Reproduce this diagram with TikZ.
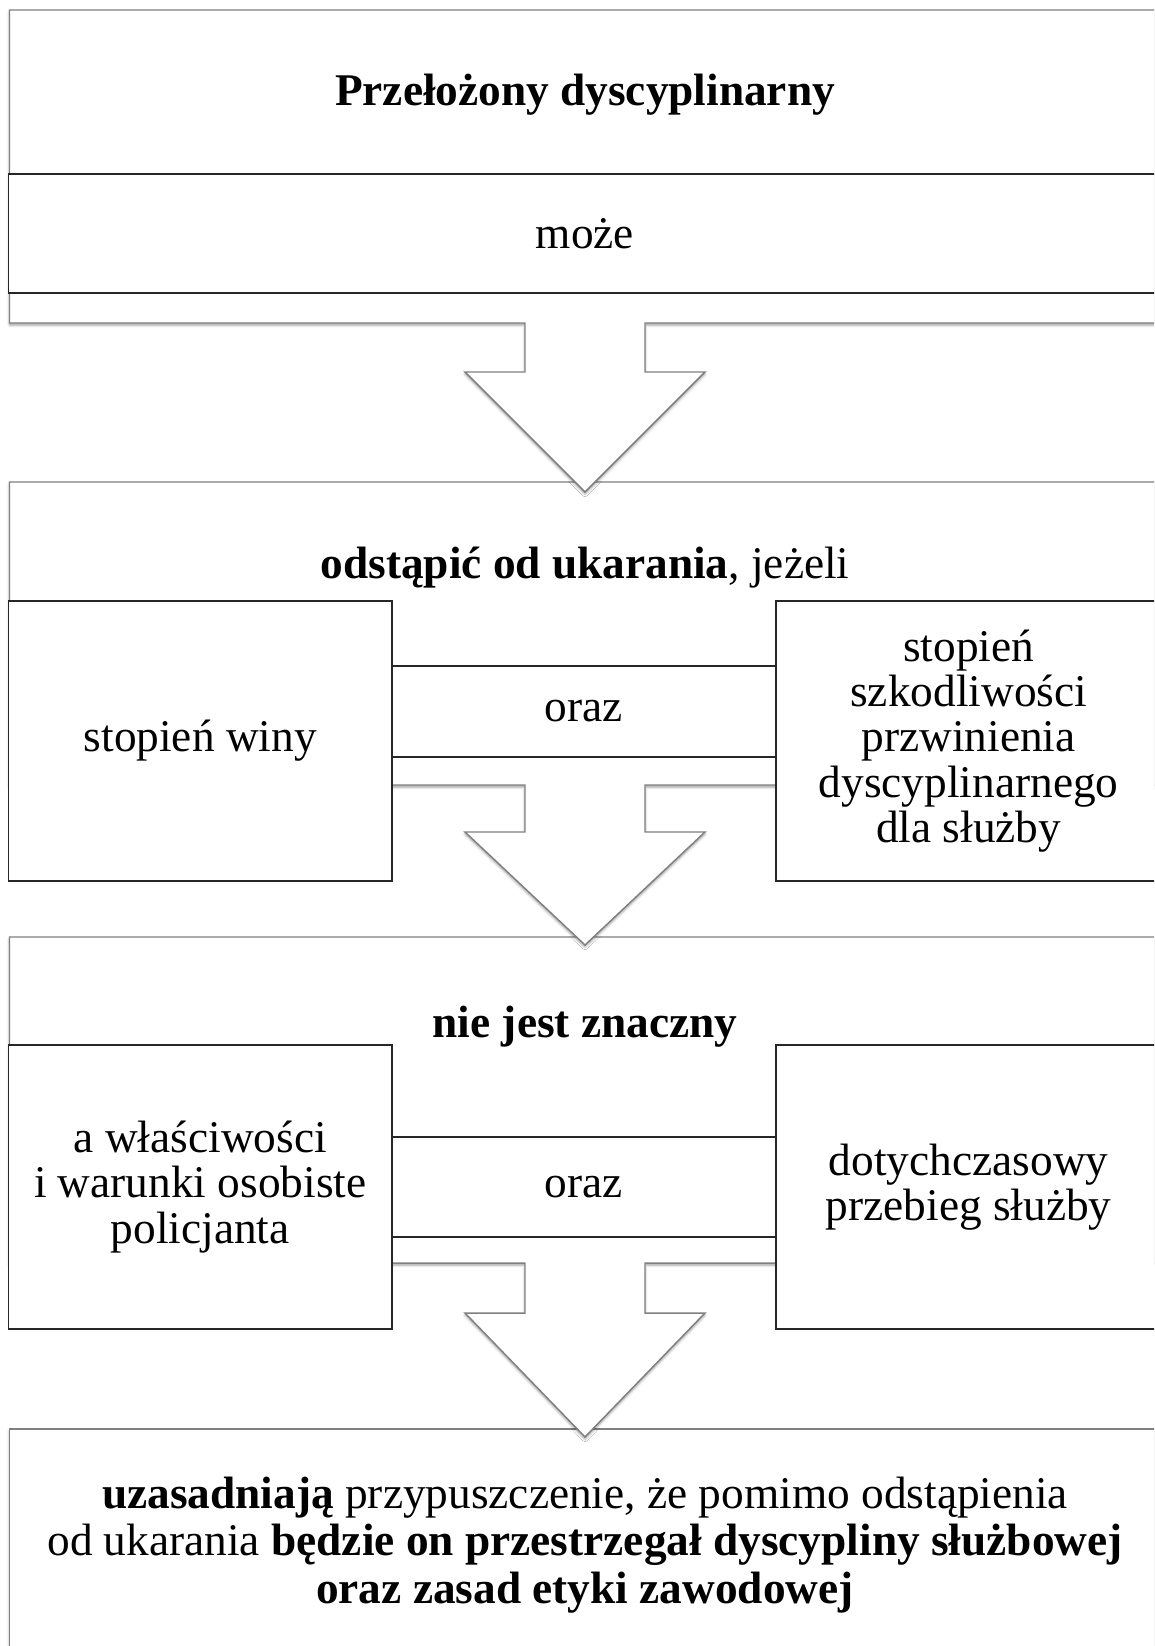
\documentclass[tikz,border=0pt]{standalone}
\usepackage{fontspec}
\setmainfont{Liberation Serif}
\usetikzlibrary{positioning,shadows.blur}

\begin{document}
\begin{tikzpicture}[x=0.75pt,y=-0.75pt,
    panel/.style={draw=black!50,line width=1.1pt,fill=white,
      blur shadow={shadow xshift=0pt,shadow yshift=-1.5pt,shadow blur radius=2pt,shadow opacity=40}},
    cell/.style={rectangle,draw=black!85,line width=1.4pt,fill=white,align=center,
      inner sep=0pt,outer sep=0pt,font=\fontsize{34}{34}\selectfont},
    txt/.style={align=center,font=\fontsize{34}{35.5}\selectfont}]
\useasboundingbox (0,0) rectangle (1154,1646);
\clip (0,0) rectangle (1154,1646);

% ostatni panel
\path[panel] (9.5,1429) rectangle (1161.5,1720);
\node[txt] (wniosek) at (585,1545) {\textbf{uzasadniają} przypuszczenie, że pomimo odstąpienia\\
  od ukarania \textbf{będzie on przestrzegał dyscypliny służbowej}\\
  \textbf{oraz zasad etyki zawodowej}};

% panel 3
\path[panel] (9.5,937) -- (1161.5,937) -- (1161.5,1263) -- (645,1263) -- (645,1313)
  -- (705,1313) -- (585,1437) -- (465,1313) -- (525,1313) -- (525,1263) -- (9.5,1263) -- cycle;
\node[txt] (znaczny) at (585,1027) {\textbf{nie jest znaczny}};
\node[cell,minimum width=287.6pt,minimum height=213pt] (cechy) at (200.25,1187)
  {a właściwości\\ i warunki osobiste\\ policjanta};
\node[cell,minimum width=288pt,minimum height=75pt] (oraz_b) [right=0pt of cechy] {oraz};
\node[cell,minimum width=289pt,minimum height=213pt] (przebieg) [right=0pt of oraz_b]
  {dotychczasowy\\ przebieg służby};

% panel 2
\path[panel] (9.5,482) -- (1161.5,482) -- (1161.5,785) -- (645,785) -- (645,832)
  -- (705,832) -- (585,945) -- (465,832) -- (525,832) -- (525,785) -- (9.5,785) -- cycle;
\node[txt] (odstap) at (585,568) {\textbf{odstąpić od ukarania}, jeżeli};
\node[cell,minimum width=287.6pt,minimum height=210pt] (wina) at (200.25,741) {stopień winy};
\node[cell,minimum width=288pt,minimum height=68.25pt,anchor=west] (oraz_a)
  at (wina.east |- 0,711.5) {oraz};
\node[cell,minimum width=289pt,minimum height=210pt] (szkoda) [right=288pt of wina]
  {stopień\\ szkodliwości\\ przwinienia\\ dyscyplinarnego\\ dla służby};

% panel 1
\path[panel] (9.5,10) -- (1161.5,10) -- (1161.5,323) -- (645,323) -- (645,372)
  -- (705,372) -- (585,492) -- (465,372) -- (525,372) -- (525,323) -- (9.5,323) -- cycle;
\node[txt] (przelozony) at (585,95) {\textbf{Przełożony dyscyplinarny}};
\node[cell,minimum width=864.75pt,minimum height=89.25pt] (moze) at (585,233.5) {może};
\end{tikzpicture}
\end{document}
